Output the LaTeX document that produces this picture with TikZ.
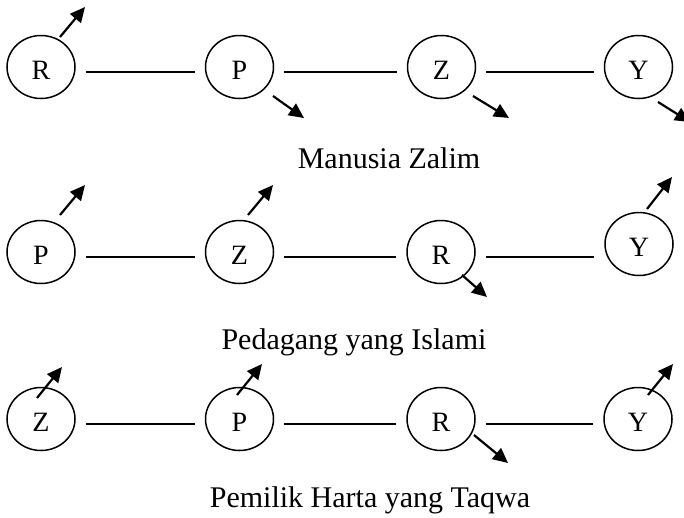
\documentclass[tikz,border=0pt]{standalone}
\usepackage{fontspec}
\setmainfont{Liberation Serif}
\usetikzlibrary{shapes.geometric}
\usetikzlibrary{arrows.meta}

\begin{document}
\begin{tikzpicture} [x=1pt,y=-1pt,
  var/.style={draw,ellipse,line width=1.5pt,minimum width=68pt,minimum height=63pt,inner sep=0pt,
    font=\fontsize{28}{32}\selectfont,text height=24pt,text depth=0pt},
  link/.style={line width=1.9pt,shorten <=10pt,shorten >=10pt},
  effect/.style={line width=2.2pt,-{Triangle[length=15pt,width=14pt]}},
  caption/.style={font=\fontsize{30}{36}\selectfont,anchor=base}]

\clip (0,0) rectangle (684,517);

% Manusia Zalim
\node[var] (R1) at (41,67) {R};
\node[var] (P1) at (239.5,67) {P};
\node[var] (Z1) at (441.5,67) {Z};
\node[var] (Y1) at (638.5,67) {Y};

\draw[link] ([yshift=-5pt]R1.east) -- ([yshift=-5pt]P1.west);
\draw[link] ([yshift=-5pt]P1.east) -- ([yshift=-5pt]Z1.west);
\draw[link] ([yshift=-5pt]Z1.east) -- ([yshift=-5pt]Y1.west);

\draw[effect] ([shift={(19,-30)}]R1.center) -- ++(25,-30);
\draw[effect] ([shift={(33.5,29)}]P1.center) -- ++(31,22);
\draw[effect] ([shift={(31.5,29)}]Z1.center) -- ++(36,22);
\draw[effect] ([shift={(19.5,35)}]Y1.center) -- ++(32,20);

\node[caption] (zalim) at (389,168) {Manusia Zalim};

% Pedagang yang Islami
\node[var] (P2) at (41,252) {P};
\node[var] (Z2) at (239.5,252) {Z};
\node[var] (R2) at (441,252) {R};
\node[var] (Y2) at (639,244) {Y};

\coordinate (r2y) at ([yshift=-5pt]R2.east);
\draw[link] ([yshift=-5pt]P2.east) -- ([yshift=-5pt]Z2.west);
\draw[link] ([yshift=-5pt]Z2.east) -- ([yshift=-5pt]R2.west);
\draw[link] (r2y) -- (r2y -| Y2.west);

\draw[effect] ([shift={(19,-37)}]P2.center) -- ++(25,-30);
\draw[effect] ([shift={(8.5,-37)}]Z2.center) -- ++(25,-30);
\draw[effect] ([shift={(21,23)}]R2.center) -- ++(25,22);
\draw[effect] ([shift={(8,-35)}]Y2.center) -- ++(25,-32);

\node[caption] (islami) at (354,349) {Pedagang yang Islami};

% Pemilik Harta yang Taqwa
\node[var] (Z3) at (41,419) {Z};
\node[var] (P3) at (239.5,419) {P};
\node[var] (R3) at (441,419) {R};
\node[var] (Y3) at (638,419) {Y};

\draw[link] ([yshift=-5pt]Z3.east) -- ([yshift=-5pt]P3.west);
\draw[link] ([yshift=-5pt]P3.east) -- ([yshift=-5pt]R3.west);
\draw[link] ([yshift=-5pt]R3.east) -- ([yshift=-5pt]Y3.west);

\draw[effect] ([shift={(-4,-21)}]Z3.center) -- ++(25,-31);
\draw[effect] ([shift={(-2.5,-24)}]P3.center) -- ++(25,-31);
\draw[effect] ([shift={(33,16)}]R3.center) -- ++(34,28);
\draw[effect] ([shift={(10,-24)}]Y3.center) -- ++(25,-31);

\node[caption] (taqwa) at (370,507) {Pemilik Harta yang Taqwa};

\end{tikzpicture}
\end{document}
